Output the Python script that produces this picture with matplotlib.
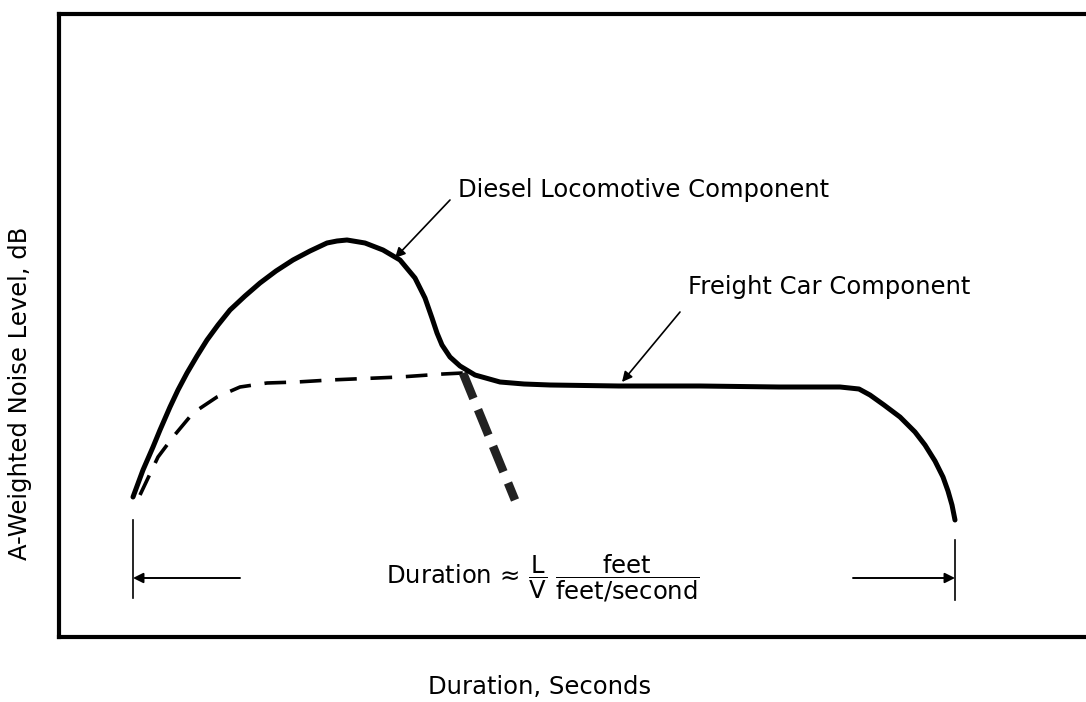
import matplotlib
matplotlib.use("Agg")
import matplotlib.pyplot as plt

plt.rcParams['font.family'] = ['DejaVu Sans']
plt.rcParams['mathtext.fontset'] = 'dejavusans'

# Combined (solid) curve: diesel locomotive + freight car
total_t = [7.4, 8.4, 9.4, 10.1, 11.1, 11.9, 12.8, 13.8, 14.8, 15.9, 17.1, 18.6, 20.1,
           21.7, 23.4, 25.1, 26.8, 27.8, 28.8, 30.6, 32.4, 34.1, 35.6, 36.6, 37.3,
           37.8, 38.3, 39.1, 40.1, 41.6, 44.1, 46.5, 49.1, 56.0, 64.1, 72.0, 78.1,
           80.0, 81.1, 82.5, 84.1, 85.6, 86.6, 87.6, 88.4, 88.9, 89.3, 89.6]
total_y = [14.0, 16.7, 19.0, 20.7, 23.0, 24.7, 26.4, 28.1, 29.7, 31.2, 32.7, 34.1, 35.4,
           36.6, 37.7, 38.6, 39.4, 39.6, 39.7, 39.4, 38.7, 37.7, 35.9, 33.9, 31.9,
           30.4, 29.2, 28.0, 27.1, 26.2, 25.5, 25.3, 25.2, 25.1, 25.1, 25.0, 25.0,
           24.8, 24.2, 23.2, 22.0, 20.5, 19.2, 17.6, 16.0, 14.6, 13.2, 11.7]

# Freight car component (dashed)
freight_t = [8.1, 9.9, 11.4, 13.4, 15.8, 18.1, 20.8, 23.8, 27.1, 34.1, 38.4, 40.4]
freight_y = [14.2, 18.0, 20.0, 22.4, 24.0, 25.0, 25.4, 25.5, 25.7, 26.0, 26.3, 26.4]

# Locomotive decay (heavy dashed)
loco_t = [40.4, 45.6]
loco_y = [26.4, 13.7]

# Duration bracket
dur_start, dur_end = 7.4, 89.6
start_bar = [3.9, 11.7]
end_bar = [3.7, 9.7]
arrow_y = 5.9
left_arrow_tail, right_arrow_tail = 18.1, 79.4

fig = plt.figure(figsize=(10.86, 7.02), dpi=100)
ax = fig.add_axes([59/1086, 1 - 637/702, (1086 - 59)/1086, (637 - 14)/702])
ax.set_xlim(0, 102.7)
ax.set_ylim(0, 62.3)
ax.set_xticks([])
ax.set_yticks([])
for s in ax.spines.values():
    s.set_linewidth(3)
    s.set_color('black')
ax.spines['right'].set_visible(False)

ax.plot(freight_t, freight_y, color='black', lw=2.6, linestyle=(0, (6, 3.8)),
        dash_capstyle='butt')
ax.plot(loco_t, loco_y, color='#222222', lw=6.2, linestyle=(0, (3.2, 1.4)),
        dash_capstyle='butt')
ax.plot(total_t, total_y, color='black', lw=3.6, solid_capstyle='round',
        solid_joinstyle='round')

fs = 17.5
arrow_kw = dict(arrowstyle='-|>', color='black', lw=1.2, mutation_scale=15,
                shrinkA=0, shrinkB=0)

# Annotations
ax.annotate('', xy=(33.6, 37.9), xytext=(39.1, 43.7), arrowprops=arrow_kw)
ax.text(39.9, 44.7, 'Diesel Locomotive Component', fontsize=fs, ha='left', va='center')
ax.annotate('', xy=(56.3, 25.5), xytext=(62.1, 32.5), arrowprops=arrow_kw)
ax.text(62.9, 35.0, 'Freight Car Component', fontsize=fs, ha='left', va='center')

# Duration bracket
ax.plot([dur_start, dur_start], start_bar, color='black', lw=1.2)
ax.plot([dur_end, dur_end], end_bar, color='black', lw=1.2)
ax.annotate('', xy=(dur_start, arrow_y), xytext=(left_arrow_tail, arrow_y),
            arrowprops=dict(arrow_kw, lw=1.4))
ax.annotate('', xy=(dur_end, arrow_y), xytext=(right_arrow_tail, arrow_y),
            arrowprops=dict(arrow_kw, lw=1.4))
ax.text(48.4, arrow_y,
        r'$\mathrm{Duration}\,\approx\,\dfrac{\mathrm{L}}{\mathrm{V}}\;\dfrac{\mathrm{feet}}{\mathrm{feet/second}}$',
        fontsize=fs, ha='center', va='center')

fig.text(540/1086, 1 - 687/702, 'Duration, Seconds', fontsize=fs, ha='center', va='center')
fig.text(20/1086, 1 - 393/702, 'A-Weighted Noise Level, dB', fontsize=fs, ha='center',
         va='center', rotation=90)

fig.savefig('out.png', dpi=100)
